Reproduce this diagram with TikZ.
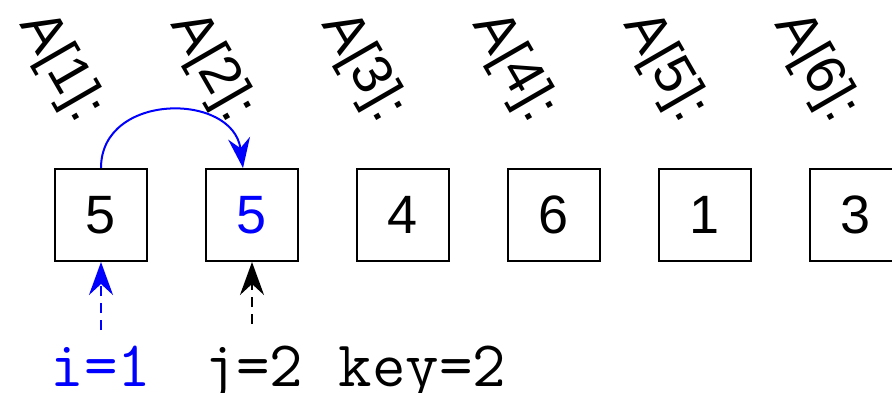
\documentclass[tikz,border=0pt]{standalone}
\usepackage{fontspec}
\setmainfont{Liberation Sans}
\usetikzlibrary{arrows.meta}
\begin{document}
\begin{tikzpicture}[x=1pt,y=1pt,
  cell/.style={draw, line width=2pt, minimum size=92pt, inner sep=0pt, font=\fontsize{54}{60}\selectfont},
  lab/.style={rotate=-60, anchor=base east, inner sep=0pt, font=\fontsize{56}{60}\selectfont},
  var/.style={anchor=base, inner sep=0pt, font=\ttfamily\fontsize{65}{70}\selectfont},
  ptr/.style={line width=2pt, dash pattern=on 10pt off 7pt, -{Stealth[length=33pt,width=24pt,inset=11pt]}},
  move/.style={line width=2pt, blue, -{Stealth[length=30pt,width=22pt,inset=10pt]}}
]
\useasboundingbox (0,0) rectangle (892,392);
% cells
\node[cell] (b1) at (101,177) {5};
\node[cell, text=blue] (b2) at (252,177) {5};
\node[cell] (b3) at (403,177) {4};
\node[cell] (b4) at (554,177) {6};
\node[cell] (b5) at (705,177) {1};
\node[cell] (b6) at (856,177) {3};
% index labels
\node[lab] (l1) at (77.4,267.3) {A[1]:};
\node[lab] (l2) at (228.4,267.3) {A[2]:};
\node[lab] (l3) at (379.4,267.3) {A[3]:};
\node[lab] (l4) at (530.4,267.3) {A[4]:};
\node[lab] (l5) at (681.4,267.3) {A[5]:};
\node[lab] (l6) at (832.4,267.3) {A[6]:};
% variables
\node[var, text=blue] (i) at (101,6) {i=1};
\node[var] (j) at (253,6) {j=2};
\node[var, anchor=base west] (key) at (338.5,6) {key=2};
\coordinate (ia) at (101,62);
\coordinate (ja) at (252,68);
\draw[ptr, blue] (ia) -- (b1.south);
\draw[ptr, black] (ja) -- (b2.south);
% move arrow
\coordinate (e12) at ([xshift=-9pt]b2.north);
\draw[move] (b1.north) .. controls +(0,76) and +(-10,76) .. (e12);
\end{tikzpicture}
\end{document}
